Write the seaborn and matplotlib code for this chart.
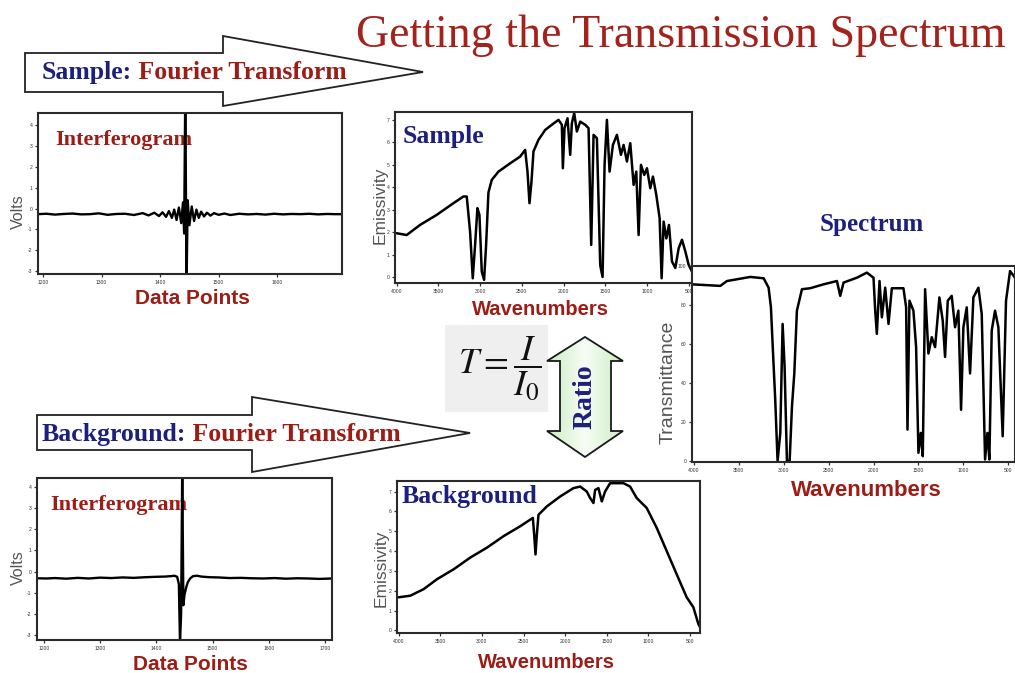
import matplotlib
matplotlib.use("Agg")
import matplotlib.pyplot as plt
import numpy as np
import seaborn as sns
from matplotlib.patches import Polygon, Rectangle

# ---------------- data ----------------
# Sample interferogram (data point index, volts)
sample_ifg_x = [1190, 1205, 1220, 1235, 1250, 1265, 1280, 1295, 1310, 1325,
                1340, 1355, 1370, 1380, 1390, 1398, 1404, 1410, 1415, 1420,
                1424, 1428, 1432, 1436, 1439, 1441, 1443, 1445, 1447, 1450,
                1454, 1458, 1462, 1466, 1470, 1475, 1480, 1486, 1492, 1500,
                1510, 1520, 1535, 1550, 1565, 1580, 1595, 1610, 1625, 1640,
                1655, 1670, 1685, 1700, 1712]
sample_ifg_v = [-0.27, -0.25, -0.29, -0.26, -0.24, -0.28, -0.27, -0.23, -0.30, -0.26,
                -0.25, -0.31, -0.22, -0.33, -0.20, -0.36, -0.18, -0.40, -0.12, -0.45,
                -0.05, -0.55, 0.05, -0.70, 0.30, -1.20, 6.00, -4.00, 0.40, -0.80,
                0.10, -0.60, -0.05, -0.45, -0.15, -0.38, -0.20, -0.34, -0.22, -0.30,
                -0.24, -0.31, -0.25, -0.28, -0.26, -0.29, -0.25, -0.28, -0.26, -0.27,
                -0.25, -0.28, -0.26, -0.27, -0.27]

# Background interferogram
bkg_ifg_x = [1188, 1205, 1220, 1240, 1260, 1280, 1300, 1320, 1340, 1360,
             1380, 1400, 1415, 1425, 1432, 1437, 1440, 1442, 1444, 1446,
             1448, 1450, 1453, 1456, 1460, 1465, 1472, 1480, 1495, 1510,
             1530, 1550, 1570, 1590, 1610, 1630, 1650, 1670, 1690, 1712]
bkg_ifg_v = [-0.32, -0.33, -0.31, -0.34, -0.30, -0.33, -0.29, -0.31, -0.28, -0.30,
             -0.27, -0.25, -0.24, -0.22, -0.20, -0.25, -0.60, -3.40, -2.00, 5.00,
             -1.60, -1.10, -0.75, -0.50, -0.33, -0.22, -0.20, -0.24, -0.27, -0.28,
             -0.31, -0.30, -0.32, -0.33, -0.31, -0.34, -0.32, -0.33, -0.35, -0.33]

# Sample single-beam emissivity spectrum
sample_wn = [4000, 3880, 3720, 3520, 3320, 3200, 3160, 3120, 3088, 3060,
             3032, 3008, 2980, 2952, 2928, 2900, 2860, 2780, 2640, 2520,
             2460, 2432, 2408, 2384, 2360, 2300, 2220, 2140, 2060, 2020,
             2008, 1988, 1952, 1920, 1900, 1872, 1840, 1800, 1740, 1700,
             1668, 1640, 1600, 1560, 1532, 1508, 1480, 1448, 1408, 1360,
             1312, 1280, 1240, 1200, 1160, 1128, 1100, 1072, 1032, 1000,
             960, 928, 888, 848, 824, 800, 768, 736, 700, 660,
             620, 580, 540, 500, 460]
sample_em = [1.95, 1.87, 2.32, 2.77, 3.29, 3.59, 3.59, 2.02, -0.06, 1.43,
             3.07, 2.77, 0.24, -0.13, 1.43, 3.77, 4.33, 4.70, 5.07, 5.37,
             5.67, 4.70, 3.29, 4.26, 5.60, 6.12, 6.56, 6.79, 7.01, 6.79,
             4.85, 6.64, 7.08, 5.45, 6.86, 7.31, 6.49, 6.93, 6.79, 6.64,
             1.43, 6.34, 6.19, 0.52, 0.00, 5.00, 7.01, 4.70, 5.89, 6.34,
             5.45, 5.89, 5.15, 5.97, 4.11, 4.70, 1.87, 5.00, 4.55, 4.85,
             3.96, 4.48, 3.66, 2.62, -0.06, 2.47, 1.72, 2.32, 0.69, 0.40,
             1.28, 1.66, 1.14, 0.54, 0.24]

# Background single-beam emissivity spectrum
bkg_wn = [4000, 3860, 3700, 3540, 3340, 3140, 2940, 2740, 2540, 2420,
          2388, 2372, 2356, 2340, 2320, 2220, 2060, 1900, 1820, 1740,
          1700, 1660, 1640, 1600, 1560, 1520, 1460, 1300, 1220, 1140,
          1020, 900, 780, 660, 540, 460, 400, 360]
bkg_em = [1.67, 1.75, 2.08, 2.58, 3.08, 3.67, 4.17, 4.75, 5.25, 5.58,
          5.67, 4.83, 3.83, 4.83, 5.83, 6.25, 6.75, 7.17, 7.25, 7.00,
          6.67, 6.42, 7.08, 7.17, 6.50, 7.00, 7.42, 7.42, 7.25, 6.67,
          6.17, 5.17, 4.00, 2.83, 1.67, 1.17, 0.33, 0.00]

# Transmission spectrum T = I / I0
spec_wn = [4019, 3704, 3630, 3370, 3222, 3167, 3141, 3119, 3093, 3067,
           3037, 3011, 2989, 2963, 2933, 2907, 2881, 2852, 2796, 2704,
           2556, 2407, 2370, 2333, 2185, 2074, 2000, 1981, 1963, 1933,
           1907, 1870, 1833, 1796, 1667, 1637, 1622, 1600, 1556, 1526,
           1500, 1474, 1452, 1426, 1389, 1352, 1315, 1267, 1230, 1204,
           1174, 1130, 1093, 1056, 1026, 1000, 963, 926, 889, 833,
           796, 759, 733, 711, 685, 648, 611, 563, 526, 481, 426]
spec_t = [90.6, 89.8, 92.3, 94.4, 93.7, 88.9, 78.8, 56.7, 31.3, 0.0,
          14.4, 70.3, 48.3, 0.0, 0.0, 28.0, 44.9, 77.1, 88.1, 88.6,
          90.6, 92.3, 84.7, 91.5, 94.0, 96.6, 94.0, 77.1, 65.2, 92.3,
          73.7, 88.9, 70.3, 88.6, 88.6, 78.8, 16.1, 82.2, 77.1, 58.4,
          4.2, 14.4, 2.5, 88.1, 55.1, 63.5, 58.4, 83.9, 72.0, 53.4,
          82.2, 84.7, 68.6, 77.1, 26.3, 68.6, 78.8, 44.9, 83.9, 88.9,
          75.4, 0.8, 14.4, 0.8, 66.9, 77.1, 68.6, 12.7, 82.2, 97.4, 94.0]

ifg_ticks_top = [1200, 1300, 1400, 1500, 1600]
ifg_ticks_bottom = [1200, 1300, 1400, 1500, 1600, 1700]
wn_ticks = [4000, 3500, 3000, 2500, 2000, 1500, 1000, 500]

# ---------------- style ----------------
sns.set_theme(style="white")
plt.rcParams["font.family"] = ["Liberation Sans", "DejaVu Sans"]
plt.rcParams["mathtext.fontset"] = "stix"

DARK_RED = "#9c1c16"
NAVY = "#1c1f7c"
SERIF = ["Liberation Serif", "DejaVu Serif"]

W, H = 1015, 673
fig = plt.figure(figsize=(W / 100, H / 100), dpi=100)
fig.patch.set_facecolor("white")


def box(x0, y0, x1, y1):
    return [x0 / W, 1 - y1 / H, (x1 - x0) / W, (y1 - y0) / H]


def fpt(x, y):
    return (x / W, 1 - y / H)


def make_panel(rect_px, xs, ys, xlim, ylim, xticks, yticks,
               xlabel, ylabel, xl_pos, yl_pos, xl_size, yl_size, lw=1.8):
    x0, y0, x1, y1 = rect_px
    ax = fig.add_axes(box(*rect_px))
    sns.lineplot(x=xs, y=ys, ax=ax, color="black", linewidth=lw,
                 sort=False, estimator=None)
    ax.set_xlim(*xlim)
    ax.set_ylim(*ylim)
    ax.set_xticks(xticks)
    ax.set_yticks(yticks)
    ax.set_xticklabels([str(t) for t in xticks])
    ax.set_yticklabels([str(t) for t in yticks])
    ax.tick_params(axis="both", bottom=True, left=True, length=2.5, width=0.9,
                   labelsize=3.6, colors="#333333", pad=1.5)
    for s in ax.spines.values():
        s.set_visible(True)
        s.set_color("#2a2a2a")
        s.set_linewidth(1.5)
    ax.set_xlabel(xlabel, color=DARK_RED, fontsize=xl_size, fontweight="bold",
                  va="center")
    ax.set_ylabel(ylabel, color="#555555", fontsize=yl_size, va="center")
    ax.xaxis.set_label_coords((xl_pos[0] - x0) / (x1 - x0),
                              (y1 - xl_pos[1]) / (y1 - y0))
    ax.yaxis.set_label_coords((yl_pos[0] - x0) / (x1 - x0),
                              (y1 - yl_pos[1]) / (y1 - y0))
    ax.set_facecolor("white")
    return ax


# ---------------- title ----------------
fig.text(681 / W, 1 - 47 / H, "Getting the Transmission Spectrum",
         ha="center", va="baseline", fontsize=33, color="#a3221b",
         family=SERIF)

# ---------------- block arrows ----------------
arrow_top = [(25, 53), (223, 53), (223, 36), (423, 72), (223, 106), (223, 92), (25, 92)]
arrow_bot = [(37, 415), (252, 415), (252, 397), (470, 433), (252, 472), (252, 450), (37, 450)]
for pts in (arrow_top, arrow_bot):
    fig.add_artist(Polygon([fpt(x, y) for x, y in pts], closed=True,
                           transform=fig.transFigure, facecolor="white",
                           edgecolor="#222222", linewidth=1.3, zorder=1))

renderer = fig.canvas.get_renderer()


def two_color(x, y, first, second, size):
    t1 = fig.text(x / W, 1 - y / H, first, ha="left", va="baseline",
                  fontsize=size, fontweight="bold", color=NAVY, family=SERIF,
                  zorder=3)
    bb = t1.get_window_extent(renderer=renderer)
    fig.text(bb.x1 / W, 1 - y / H, second, ha="left", va="baseline",
             fontsize=size, fontweight="bold", color=DARK_RED, family=SERIF,
             zorder=3)


two_color(42, 79, "Sample:", " Fourier Transform", 18.5)
two_color(42, 441, "Background:", " Fourier Transform", 18.5)

# ---------------- panels ----------------
ax1 = make_panel((38, 113, 342, 274), sample_ifg_x, sample_ifg_v,
                 (1191, 1711), (-3.15, 4.6), ifg_ticks_top,
                 [-3, -2, -1, 0, 1, 2, 3, 4],
                 "Data Points", "Volts", (192, 298), (18, 212), 15, 11.5, lw=1.7)
ax1.text((55 - 38) / 304, (274 - 140) / 161, "Interferogram", transform=ax1.transAxes,
         ha="left", va="center", fontsize=16, fontweight="bold",
         color=DARK_RED, family=SERIF, zorder=1)

ax4 = make_panel((37, 478, 332, 640), bkg_ifg_x, bkg_ifg_v,
                 (1188, 1712), (-3.25, 4.44), ifg_ticks_bottom,
                 [-3, -2, -1, 0, 1, 2, 3, 4],
                 "Data Points", "Volts", (190, 664), (18, 568), 15, 11.5, lw=1.7)
ax4.text((50 - 37) / 295, (640 - 505) / 162, "Interferogram", transform=ax4.transAxes,
         ha="left", va="center", fontsize=16, fontweight="bold",
         color=DARK_RED, family=SERIF, zorder=1)

ax2 = make_panel((395, 112, 692, 283), sample_wn, sample_em,
                 (4020, 460), (-0.27, 7.36), wn_ticks, list(range(0, 8)),
                 "Wavenumbers", "Emissivity", (540, 309), (380, 205), 14.5, 12.5)
ax2.text((403 - 395) / 297, (283 - 137) / 171, "Sample", transform=ax2.transAxes,
         ha="left", va="center", fontsize=18.5, fontweight="bold",
         color=NAVY, family=SERIF, zorder=1)

ax5 = make_panel((397, 481, 700, 633), bkg_wn, bkg_em,
                 (4020, 380), (-0.13, 7.53), wn_ticks, list(range(0, 8)),
                 "Wavenumbers", "Emissivity", (546, 662), (381, 568), 14.5, 12.5)
ax5.text((402 - 397) / 303, (633 - 497) / 152, "Background", transform=ax5.transAxes,
         ha="left", va="center", fontsize=18.5, fontweight="bold",
         color=NAVY, family=SERIF, zorder=1)

ax3 = make_panel((692, 266, 1015, 462), spec_wn, spec_t,
                 (4019, 426), (-0.5, 100), wn_ticks, [0, 20, 40, 60, 80, 100],
                 "Wavenumbers", "Transmittance", (866, 490), (668, 382), 16, 14)
fig.text(872 / W, 1 - 225 / H, "Spectrum", ha="center", va="center",
         fontsize=18, fontweight="bold", color=NAVY, family=SERIF)

# ---------------- formula T = I / I0 ----------------
fig.add_artist(Rectangle(fpt(445, 412), 103 / W, 87 / H, transform=fig.transFigure,
                         facecolor="#efefef", edgecolor="none", zorder=0))
fig.text(500 / W, 1 - 368 / H, r"$T=\dfrac{I}{I_0}$", ha="center", va="center",
         fontsize=26, color="#111111")

# ---------------- "Ratio" double arrow ----------------
rx0, ry0, rx1, ry1 = 545, 334, 626, 460
axr = fig.add_axes(box(rx0, ry0, rx1, ry1))
axr.set_xlim(0, 1)
axr.set_ylim(0, 1)
axr.axis("off")
ratio_px = [(585, 337), (623, 361), (611, 361), (611, 431), (623, 431), (585, 457),
            (547, 431), (560, 431), (560, 361), (547, 361)]
ratio_uv = [((x - rx0) / (rx1 - rx0), 1 - (y - ry0) / (ry1 - ry0)) for x, y in ratio_px]
shape = Polygon(ratio_uv, closed=True, facecolor="none", edgecolor="#1a1a1a",
                linewidth=1.3, transform=axr.transData, zorder=3)
axr.add_patch(shape)
grad = np.abs(np.linspace(-1, 1, 64))[None, :]
green_map = matplotlib.colors.LinearSegmentedColormap.from_list(
    "mint", ["#f6fdf4", "#c9ecc0"])
img = axr.imshow(grad, extent=[0, 1, 0, 1], aspect="auto", cmap=green_map,
                 zorder=1)
img.set_clip_path(shape)
axr.text(0.5, 0.5, "Ratio", rotation=90, ha="center", va="center",
         fontsize=20, fontweight="bold", color=NAVY, family=SERIF, zorder=4,
         transform=axr.transAxes)

fig.savefig("out.png", dpi=100, facecolor="white")
